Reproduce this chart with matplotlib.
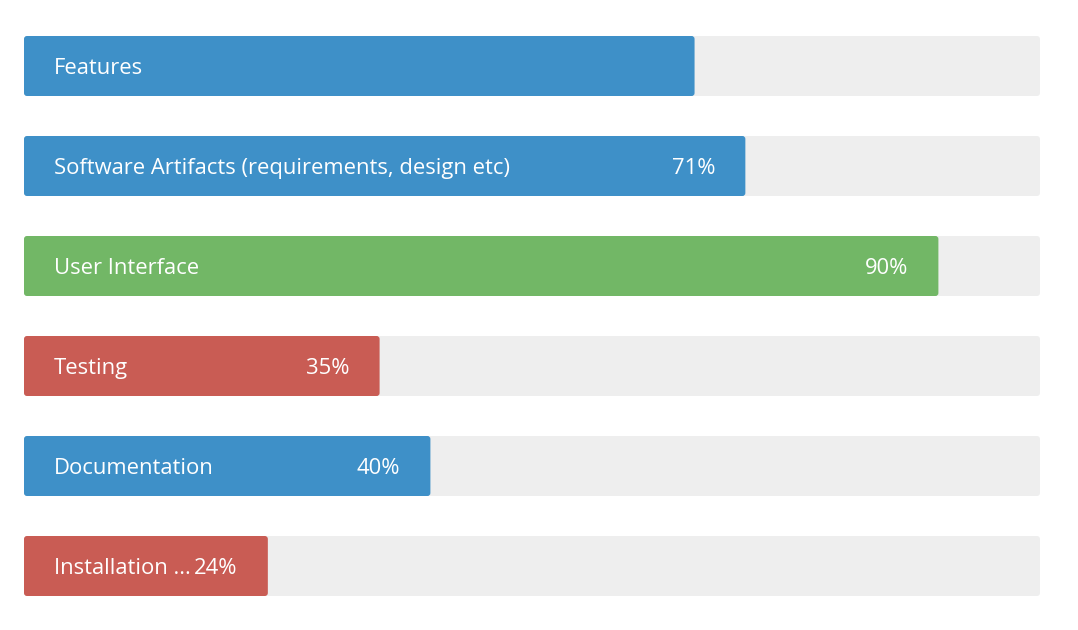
import matplotlib
matplotlib.use('Agg')
import matplotlib.pyplot as plt
from matplotlib.patches import FancyBboxPatch

# progress rows, top to bottom
labels = ['Features', 'Software Artifacts (requirements, design etc)', 'User Interface',
          'Testing', 'Documentation', 'Installation ...']
values = [66, 71, 90, 35, 40, 24]
show_pct = [False, True, True, True, True, True]
colors = ['#3e90c8', '#3e90c8', '#72b766', '#c95c54', '#3e90c8', '#c95c54']
track_color = '#eeeeee'

W, H = 1078, 630
fig = plt.figure(figsize=(W / 100, H / 100), dpi=100)
ax = fig.add_axes([24 / W, 14 / H, 1016 / W, 600 / H])
ax.set_xlim(0, 100)
ax.set_ylim(len(labels), 0)
ax.axis('off')

bar_h = 0.6
aspect = (1 / 100) / (100 / 1016)  # y units per px / x units per px
r = 3 * 100 / 1016  # 3 px corner in x units
fs = 15.8
dy = -2.5 * 0.72  # nudge text down a bit

for i, (lab, val, col) in enumerate(zip(labels, values, colors)):
    y0 = i + 0.5 - bar_h / 2
    ax.add_patch(FancyBboxPatch((0, y0), 100, bar_h,
                                boxstyle='round,pad=0,rounding_size=%f' % r,
                                mutation_aspect=aspect, fc=track_color, ec='none'))
    ax.add_patch(FancyBboxPatch((0, y0), val, bar_h,
                                boxstyle='round,pad=0,rounding_size=%f' % r,
                                mutation_aspect=aspect, fc=col, ec='none'))
    ax.annotate(lab, xy=(0, i + 0.5), xytext=(30 * 0.72, dy), textcoords='offset points',
                ha='left', va='center', color='white', fontsize=fs, family='Open Sans')
    if show_pct[i]:
        ax.annotate('%d%%' % val, xy=(val, i + 0.5), xytext=(-30 * 0.72, dy),
                    textcoords='offset points', ha='right', va='center',
                    color='white', fontsize=fs, family='Open Sans')

fig.savefig('out.png', dpi=100)
